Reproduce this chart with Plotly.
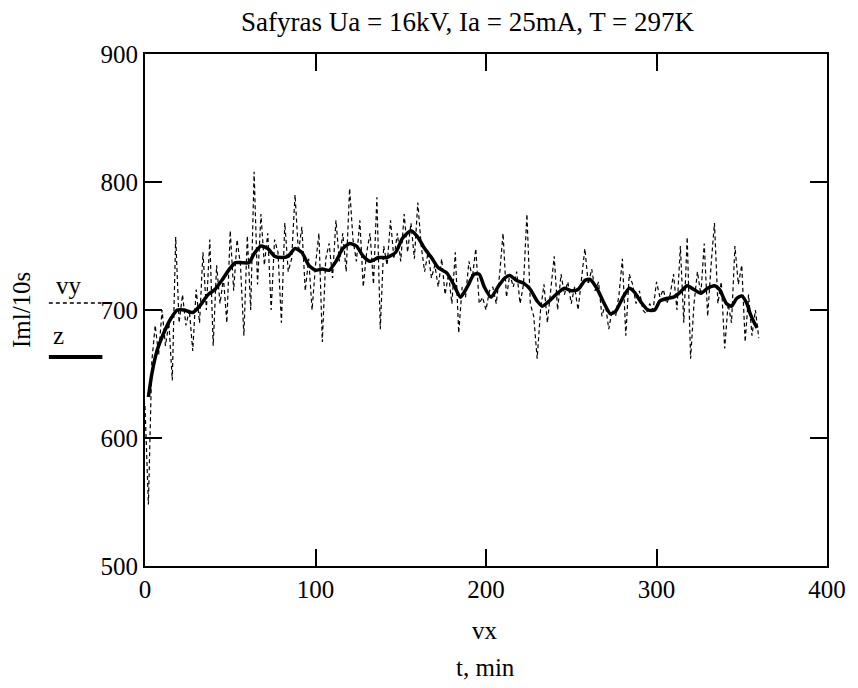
import plotly.graph_objects as go

# ---- data ----
t_vy = list(range(0, 361, 2))
vy = [625, 548, 660, 688, 665, 700, 672, 690, 645, 757,
      690, 712, 688, 700, 668, 716, 690, 745, 700, 755,
      672, 735, 705, 725, 690, 762, 715, 755, 735, 680,
      758, 700, 808, 720, 775, 735, 760, 700, 755, 745,
      690, 768, 730, 740, 790, 745, 765, 715, 740, 700,
      735, 760, 675, 740, 752, 725, 770, 738, 760, 730,
      795, 755, 738, 770, 718, 745, 760, 720, 788, 685,
      750, 735, 770, 740, 760, 738, 775, 745, 768, 740,
      784, 750, 730, 745, 725, 735, 718, 740, 712, 728,
      705, 745, 682, 718, 710, 738, 725, 748, 705, 710,
      700, 715, 718, 705, 728, 760, 710, 728, 718, 730,
      705, 720, 775, 705, 695, 662, 700, 720, 690, 715,
      742, 700, 728, 712, 722, 705, 718, 700, 722, 748,
      720, 732, 715, 722, 695, 705, 685, 700, 695, 712,
      740, 680, 728, 720, 705, 715, 700, 697, 705, 700,
      722, 710, 716, 705, 712, 728, 700, 750, 690, 757,
      662, 705, 730, 712, 752, 695, 735, 768, 705, 722,
      670, 705, 690, 750, 720, 735, 675, 712, 680, 700,
      678]

t_z = [2, 4, 7, 11, 15, 19, 23, 28, 32, 37, 41, 45, 49, 53, 57, 61, 64, 68, 72,
       76, 80, 84, 88, 92, 96, 100, 104, 108, 112, 116, 120, 124, 128, 132, 137,
       142, 147, 151, 156, 160, 164, 168, 172, 177, 181, 185, 189, 193, 196, 199,
       203, 207, 211, 214, 218, 222, 226, 230, 233, 237, 241, 246, 250, 254, 258,
       261, 265, 269, 273, 276, 280, 284, 287, 291, 295, 299, 302, 306, 310, 314,
       318, 322, 326, 330, 334, 337, 341, 344, 347, 350, 353, 355, 357, 359]
z = [632, 650, 668, 682, 693, 700, 700, 698, 703, 712, 716, 723, 731, 737, 737,
     737, 744, 750, 748, 742, 741, 742, 748, 745, 735, 731, 732, 731, 738, 748,
     752, 750, 742, 738, 741, 741, 745, 756, 762, 757, 748, 741, 733, 729, 720,
     710, 718, 728, 728, 718, 710, 718, 725, 727, 723, 721, 716, 707, 703, 707,
     712, 717, 715, 716, 723, 724, 717, 706, 697, 699, 709, 717, 714, 706, 700,
     700, 707, 709, 710, 714, 719, 716, 713, 717, 719, 716, 705, 703, 709, 711,
     705, 697, 691, 686]

x_ticks = [0, 100, 200, 300, 400]
y_ticks = [500, 600, 700, 800, 900]

FONT = "Liberation Serif, Times New Roman, serif"

fig = go.Figure()
fig.add_trace(go.Scatter(x=t_vy, y=vy, mode="lines", name="vy",
                         line=dict(color="black", width=1.2, dash="4px,3px")))
fig.add_trace(go.Scatter(x=t_z, y=z, mode="lines", name="z",
                         line=dict(color="black", width=3.5, shape="spline", smoothing=0.6)))

W, H = 858, 688
L, R, T, B = 145, 25, 54, 122
pw, ph = W - L - R, H - T - B

def px(x):
    return (x - L) / pw

def py(y):
    return (H - B - y) / ph

ann = [
    dict(text="Safyras Ua = 16kV, Ia = 25mA, T = 297K", x=px(470), y=py(22), size=27),
    dict(text="vx", x=px(488), y=py(630), size=25),
    dict(text="t, min", x=px(488), y=py(667), size=25),
    dict(text="vy", x=px(68), y=py(285), size=25),
    dict(text="z", x=px(58), y=py(335), size=25),
]
annotations = [dict(text=a["text"], x=a["x"], y=a["y"], xref="paper", yref="paper",
                    showarrow=False, xanchor="center", yanchor="middle",
                    font=dict(family=FONT, size=a["size"], color="black")) for a in ann]
annotations.append(dict(text="Iml/10s", x=px(20), y=py(310), xref="paper", yref="paper",
                        showarrow=False, textangle=-90, xanchor="center", yanchor="middle",
                        font=dict(family=FONT, size=25, color="black")))

shapes = [
    dict(type="line", xref="paper", yref="paper", x0=px(48), x1=px(101), y0=py(303), y1=py(303),
         line=dict(color="black", width=1.5, dash="4px,3px")),
    dict(type="line", xref="paper", yref="paper", x0=px(48), x1=px(102), y0=py(357), y1=py(357),
         line=dict(color="black", width=4)),
]

axis_common = dict(showgrid=False, zeroline=False, showline=True, linecolor="black", linewidth=2,
                   mirror="ticks", ticks="inside", ticklen=17, tickwidth=2, tickcolor="black",
                   tickfont=dict(family=FONT, size=25, color="black"))

fig.update_layout(
    width=W, height=H,
    margin=dict(l=L, r=R, t=T, b=B),
    plot_bgcolor="white", paper_bgcolor="white",
    showlegend=False,
    xaxis=dict(range=[0, 400], tickvals=x_ticks, **axis_common),
    yaxis=dict(range=[500, 900], tickvals=y_ticks, **axis_common),
    annotations=annotations,
    shapes=shapes,
)

fig.write_html("out.html")
